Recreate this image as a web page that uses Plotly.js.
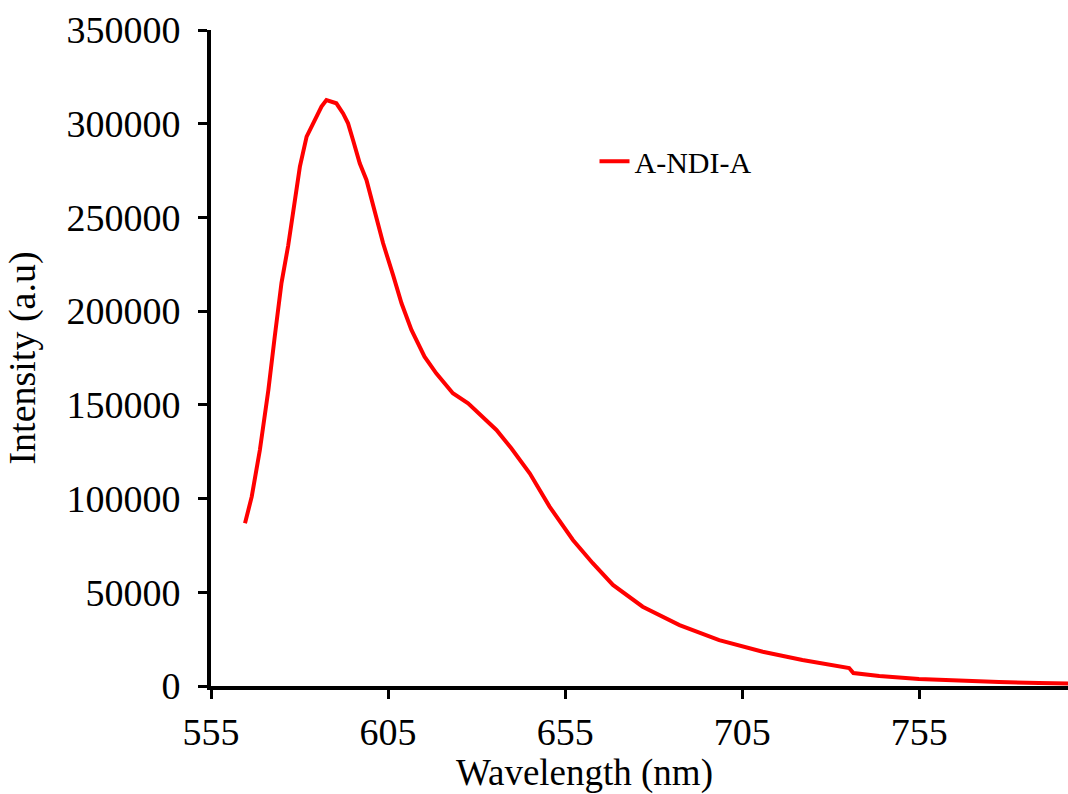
<!DOCTYPE html>
<html>
<head>
<meta charset="utf-8">
<script src="https://cdn.plot.ly/plotly-3.0.1.min.js"></script>
<style>html,body{margin:0;padding:0;background:#fff;}#chart{width:1068px;height:794px;}</style>
</head>
<body>
<div id="chart"></div>
<script>
const seriesName = "A-NDI-A";
const wavelength = [564.6, 566.5, 568.8, 571.2, 573.0, 574.9, 576.8, 578.5, 580.1, 582.0, 583.9, 586.2, 587.6, 588.8, 590.4, 592.3, 593.7, 595.1, 596.1, 597.0, 598.9, 600.8, 603.6, 606.4, 608.8, 611.6, 615.3, 618.6, 623.3, 627.6, 631.8, 635.6, 639.8, 645.0, 650.6, 657.2, 662.8, 668.5, 676.9, 687.3, 698.5, 710.8, 722.0, 729.6, 735.2, 736.4, 743.7, 754.9, 766.2, 777.5, 788.8, 797];
const intensity = [86800, 101000, 125900, 157900, 186400, 215000, 235000, 258000, 277100, 293100, 300200, 309100, 312600, 311800, 310900, 305500, 300200, 291300, 285000, 278900, 270000, 256500, 236200, 219300, 204200, 190000, 175700, 166800, 156200, 150800, 143700, 136600, 126800, 113500, 95700, 77900, 65500, 53900, 42300, 32500, 24500, 18300, 13900, 11200, 9600, 6900, 5300, 3700, 2700, 2100, 1600, 1300];
const xTicks = [555, 605, 655, 705, 755];
const yTicks = [0, 50000, 100000, 150000, 200000, 250000, 300000, 350000];

const fontFam = '"Liberation Serif", "Times New Roman", serif';
Plotly.newPlot('chart', [{
  x: wavelength, y: intensity, type: 'scatter', mode: 'lines', name: seriesName,
  line: {color: '#ff0000', width: 4}
}], {
  width: 1068, height: 794,
  margin: {l: 211, r: 0, t: 30, b: 108},
  paper_bgcolor: '#fff', plot_bgcolor: '#fff',
  font: {family: fontFam, color: '#000', size: 38},
  showlegend: true,
  legend: {x: 0.4475, y: 0.80, xanchor: 'left', yanchor: 'middle', font: {size: 30, family: fontFam}, bgcolor: 'rgba(0,0,0,0)'},
  annotations: [{
    text: 'Wavelength (nm)', xref: 'paper', yref: 'paper', x: 0.436, y: -0.1326,
    xanchor: 'center', yanchor: 'middle', showarrow: false, font: {size: 37, family: fontFam, color: '#000'}
  }],
  xaxis: {
    range: [555, 797], tickvals: xTicks, ticktext: xTicks.map(String),
    showgrid: false, zeroline: false, showline: true, linecolor: '#000', linewidth: 4,
    ticks: 'outside', ticklen: 9, tickwidth: 3, tickcolor: '#000',
    tickfont: {size: 38, family: fontFam}
  },
  yaxis: {
    range: [0, 350000], tickvals: yTicks, ticktext: yTicks.map(String),
    showgrid: false, zeroline: false, showline: true, linecolor: '#000', linewidth: 4,
    ticks: 'outside', ticklen: 9, tickwidth: 3, tickcolor: '#000',
    ticklabelstandoff: 10,
    tickfont: {size: 38, family: fontFam},
    title: {text: 'Intensity (a.u)', font: {size: 38, family: fontFam}, standoff: 20}
  }
}, {displayModeBar: false, staticPlot: true});
</script>
</body>
</html>
